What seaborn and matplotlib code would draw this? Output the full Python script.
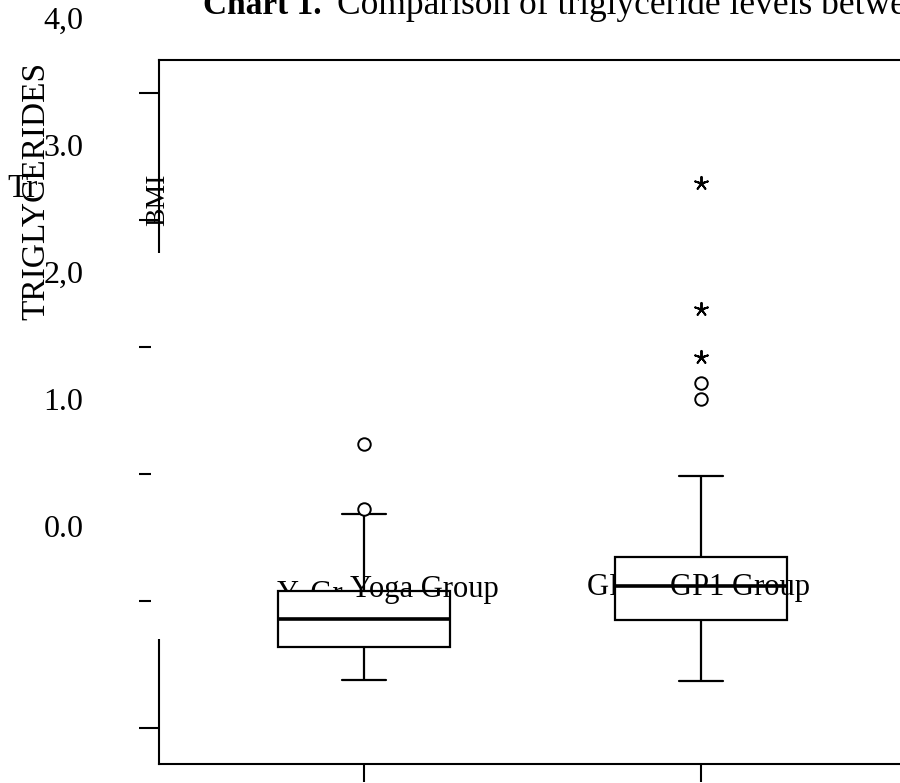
import numpy as np
import pandas as pd
import seaborn as sns
import matplotlib
matplotlib.use("Agg")
import matplotlib.pyplot as plt
import matplotlib.transforms as mtransforms
from matplotlib.patches import Rectangle

# ---- data ----
groups = ["Yoga Group", "GP1 Group"]
whisker_low = [0.38, 0.37]
q1 = [0.64, 0.85]
median = [0.86, 1.12]
q3 = [1.08, 1.35]
whisker_high = [1.69, 1.99]
yoga_mild = [1.73, 2.24]
gp1_mild = [2.59, 2.72]
yoga_extreme = []
gp1_extreme = [2.92, 3.30, 4.29]
ytick_values = [0, 1, 2, 3, 4, 5]
ytick_labels = ["", "0.0", "1.0", "2,0", "3.0", "4,0"]

sns.set_style("white")
plt.rcParams["font.family"] = ["Liberation Serif", "DejaVu Serif"]
plt.rcParams["text.color"] = "black"
plt.rcParams["axes.labelcolor"] = "black"
plt.rcParams["xtick.color"] = "black"
plt.rcParams["ytick.color"] = "black"

fig = plt.figure(figsize=(9, 7.83), dpi=100)
ax = fig.add_axes([159 / 900, 19 / 783, 746 / 900, 704 / 783])

box_rows = []
for i, g in enumerate(groups):
    for v in (whisker_low[i], q1[i], median[i], q3[i], whisker_high[i]):
        box_rows.append((g, v))
box_df = pd.DataFrame(box_rows, columns=["group", "value"])

sns.boxplot(data=box_df, x="group", y="value", order=groups, ax=ax,
            whis=(0, 100), width=0.51, color="white", linecolor="black",
            linewidth=1.6, showfliers=False, saturation=1,
            medianprops=dict(linewidth=2.6, color="black"),
            capwidths=0.13, zorder=2)

mild_df = pd.DataFrame({
    "group": ["Yoga Group"] * len(yoga_mild) + ["GP1 Group"] * len(gp1_mild),
    "value": yoga_mild + gp1_mild})
extreme_df = pd.DataFrame({
    "group": ["Yoga Group"] * len(yoga_extreme) + ["GP1 Group"] * len(gp1_extreme),
    "value": yoga_extreme + gp1_extreme})

sns.stripplot(data=mild_df, x="group", y="value", order=groups, jitter=False,
              marker="o", size=9, color="white", edgecolor="black",
              linewidth=1.4, ax=ax, zorder=4)
sns.stripplot(data=extreme_df, x="group", y="value", order=groups, jitter=False,
              marker=(5, 2, 0), size=9.5, color="black", edgecolor="black",
              linewidth=1.4, ax=ax, zorder=4)

ax.set_xlim(-0.609, 1.607)
ax.set_ylim(-0.281, 5.262)

ax.set_xticks([0, 1])
ax.set_xticklabels(["", ""])
ax.set_xlabel("")
ax.set_yticks(ytick_values)
ax.set_yticklabels(ytick_labels)
ax.tick_params(axis="y", left=True, length=14.4, width=1.5, direction="out",
               pad=40, labelsize=23, colors="black")
ax.tick_params(axis="x", bottom=True, length=13, width=1.5, direction="out",
               colors="black")
offset = mtransforms.ScaledTranslation(0, 0.75, fig.dpi_scale_trans)
for lab in ax.get_yticklabels():
    lab.set_transform(lab.get_transform() + offset)

ax.set_ylabel("TRIGLYCERIDES", fontsize=24, color="black")
ax.yaxis.set_label_coords(-0.165, 0.814)
ax.yaxis.label.set_va("center")

for s in ax.spines.values():
    s.set_visible(True)
    s.set_color("black")
    s.set_linewidth(1.5)

# white block hiding part of the left axis line
ax.add_patch(Rectangle((-0.0107, 0.1776), 0.0228, 0.548, transform=ax.transAxes,
                       facecolor="white", edgecolor="none", clip_on=False,
                       zorder=10))

# group labels (visible) and covered duplicates
ax.text(-0.258, 0.994, "Y. Gr", fontsize=22, ha="left", va="baseline", zorder=1)
ax.text(0.662, 1.05, "GP1 Group", fontsize=22, ha="left", va="baseline", zorder=1)
ax.text(-0.042, 1.034, "Yoga Group", fontsize=22, ha="left", va="baseline", zorder=6)
ax.text(0.909, 1.05, "GP1 Group", fontsize=22, ha="left", va="baseline", zorder=6)

fig.text(7 / 900, 1 - 197 / 783, "Tr", fontsize=24, ha="left", va="baseline")
fig.text(158 / 900, 1 - 200 / 783, "BMI", fontsize=20, rotation=90,
         ha="center", va="center", zorder=11)

fig.text(203 / 900, 1 - 14 / 783, "Chart 1.", fontsize=24, fontweight="bold",
         ha="left", va="baseline")
fig.text(337 / 900, 1 - 14 / 783, "Comparison of triglyceride levels between",
         fontsize=25.5, ha="left", va="baseline")

fig.savefig("out.png", dpi=100)
